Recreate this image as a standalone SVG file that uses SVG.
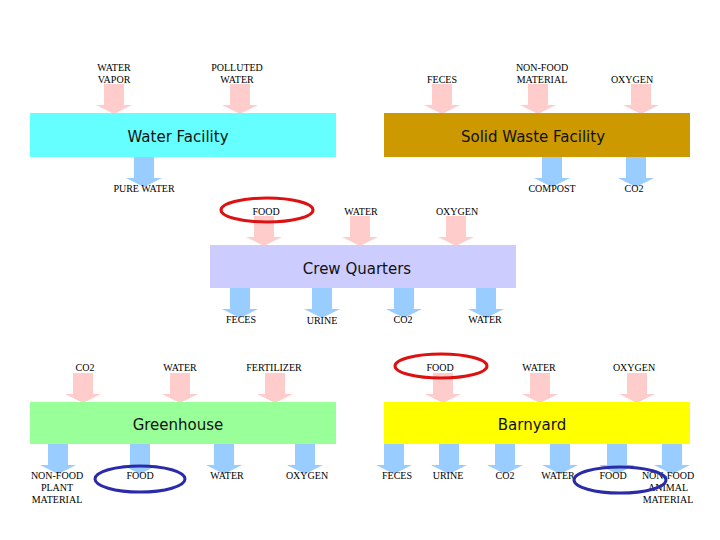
<svg xmlns="http://www.w3.org/2000/svg" xmlns:xlink="http://www.w3.org/1999/xlink" width="720" height="540" viewBox="0 0 720 540">
<style>
.box{stroke:none}
.title{font-family:"DejaVu Sans","Liberation Sans",sans-serif;font-size:15px;fill:#111;text-anchor:middle}
.lbl{font-family:"Liberation Serif","DejaVu Serif",serif;font-size:10px;fill:#000;text-anchor:middle}
.in{fill:#FFCCCC}
.out{fill:#99CCFF}
.hlr{fill:none;stroke:#DD1111;stroke-width:3}
.hlb{fill:none;stroke:#2B2BAA;stroke-width:3}
</style>
<defs>
<path id="arr" d="M -10 0 H 10 V 21 H 18 L 0 30 L -18 21 H -10 Z"/>
</defs>
<rect width="720" height="540" fill="#fff"/>
<g id="connectors">
<use href="#arr" x="114" y="84" class="in"/>
<use href="#arr" x="240" y="84" class="in"/>
<use href="#arr" x="442" y="84" class="in"/>
<use href="#arr" x="538" y="84" class="in"/>
<use href="#arr" x="641" y="84" class="in"/>
<use href="#arr" x="144" y="157" class="out"/>
<use href="#arr" x="552" y="157" class="out"/>
<use href="#arr" x="636" y="157" class="out"/>
<use href="#arr" x="264" y="216" class="in"/>
<use href="#arr" x="360" y="216" class="in"/>
<use href="#arr" x="456" y="216" class="in"/>
<use href="#arr" x="240" y="288" class="out"/>
<use href="#arr" x="322" y="288" class="out"/>
<use href="#arr" x="404" y="288" class="out"/>
<use href="#arr" x="486" y="288" class="out"/>
<use href="#arr" x="83" y="373" class="in"/>
<use href="#arr" x="180" y="373" class="in"/>
<use href="#arr" x="275" y="373" class="in"/>
<use href="#arr" x="443" y="373" class="in"/>
<use href="#arr" x="540" y="373" class="in"/>
<use href="#arr" x="637" y="373" class="in"/>
<use href="#arr" x="58" y="444" class="out"/>
<use href="#arr" x="140" y="444" class="out"/>
<use href="#arr" x="224" y="444" class="out"/>
<use href="#arr" x="305" y="444" class="out"/>
<use href="#arr" x="394" y="444" class="out"/>
<use href="#arr" x="449" y="444" class="out"/>
<use href="#arr" x="505" y="444" class="out"/>
<use href="#arr" x="560" y="444" class="out"/>
<use href="#arr" x="617" y="444" class="out"/>
<use href="#arr" x="672" y="444" class="out"/>
<text class="lbl" x="114" y="71">WATER</text>
<text class="lbl" x="114" y="83">VAPOR</text>
<text class="lbl" x="237" y="71">POLLUTED</text>
<text class="lbl" x="237" y="83">WATER</text>
<text class="lbl" x="442" y="83">FECES</text>
<text class="lbl" x="542" y="71">NON-FOOD</text>
<text class="lbl" x="542" y="83">MATERIAL</text>
<text class="lbl" x="632" y="83">OXYGEN</text>
<text class="lbl" x="144" y="192">PURE WATER</text>
<text class="lbl" x="552" y="192">COMPOST</text>
<text class="lbl" x="634" y="192">CO2</text>
<text class="lbl" x="266" y="215">FOOD</text>
<text class="lbl" x="361" y="215">WATER</text>
<text class="lbl" x="457" y="215">OXYGEN</text>
<text class="lbl" x="241" y="323">FECES</text>
<text class="lbl" x="322" y="324">URINE</text>
<text class="lbl" x="403" y="323">CO2</text>
<text class="lbl" x="485" y="323">WATER</text>
<text class="lbl" x="85" y="371">CO2</text>
<text class="lbl" x="180" y="371">WATER</text>
<text class="lbl" x="274" y="371">FERTILIZER</text>
<text class="lbl" x="440" y="371">FOOD</text>
<text class="lbl" x="539" y="371">WATER</text>
<text class="lbl" x="634" y="371">OXYGEN</text>
<text class="lbl" x="57" y="479">NON-FOOD</text>
<text class="lbl" x="57" y="491">PLANT</text>
<text class="lbl" x="57" y="503">MATERIAL</text>
<text class="lbl" x="140" y="479">FOOD</text>
<text class="lbl" x="227" y="479">WATER</text>
<text class="lbl" x="307" y="479">OXYGEN</text>
<text class="lbl" x="397" y="479">FECES</text>
<text class="lbl" x="448" y="479">URINE</text>
<text class="lbl" x="505" y="479">CO2</text>
<text class="lbl" x="558" y="479">WATER</text>
<text class="lbl" x="613" y="479">FOOD</text>
<text class="lbl" x="668" y="479">NON-FOOD</text>
<text class="lbl" x="668" y="491">ANIMAL</text>
<text class="lbl" x="668" y="503">MATERIAL</text>
</g>
<g id="water-facility">
<rect class="box" x="30" y="113" width="306" height="44" fill="#66FFFF"/>
<text class="title" x="178" y="142">Water Facility</text>
</g>
<g id="solid-waste-facility">
<rect class="box" x="384" y="113" width="306" height="44" fill="#CC9900"/>
<text class="title" x="533" y="142">Solid Waste Facility</text>
</g>
<g id="crew-quarters">
<rect class="box" x="210" y="245" width="306" height="43" fill="#CCCCFF"/>
<text class="title" x="357" y="274">Crew Quarters</text>
</g>
<g id="greenhouse">
<rect class="box" x="30" y="402" width="306" height="42" fill="#99FF99"/>
<text class="title" x="178" y="430">Greenhouse</text>
</g>
<g id="barnyard">
<rect class="box" x="384" y="402" width="306" height="42" fill="#FFFF00"/>
<text class="title" x="532" y="430">Barnyard</text>
</g>
<g id="highlights">
<ellipse class="hlr" cx="267" cy="210" rx="46" ry="12"/>
<ellipse class="hlr" cx="441" cy="366" rx="46" ry="12"/>
<ellipse class="hlb" cx="140" cy="479" rx="45" ry="13"/>
<ellipse class="hlb" cx="620" cy="480" rx="46" ry="13"/>
</g>
</svg>
